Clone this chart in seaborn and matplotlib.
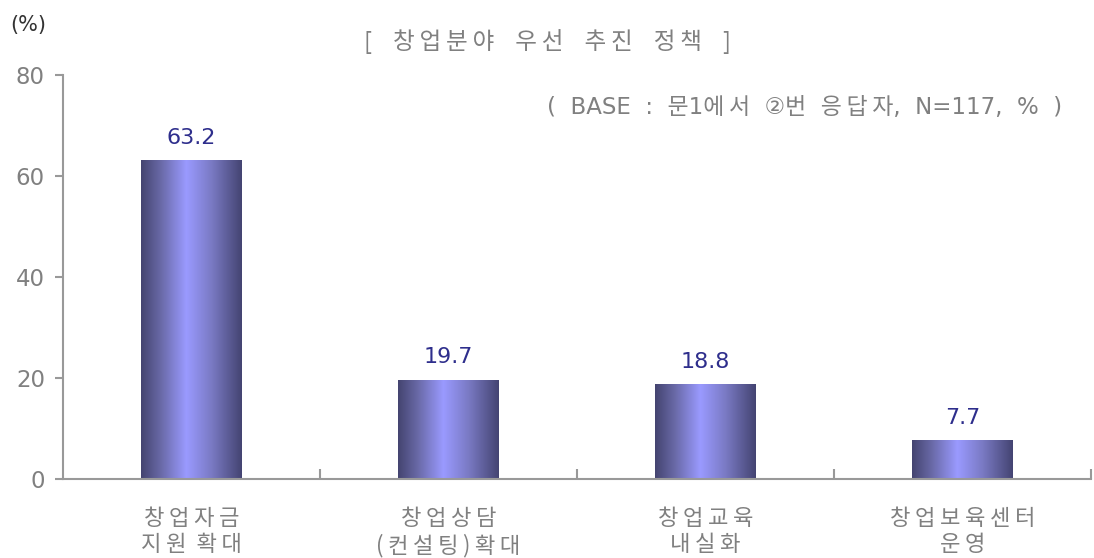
import numpy as np
import pandas as pd
import seaborn as sns
import matplotlib
matplotlib.use("Agg")
from matplotlib import pyplot as plt
from matplotlib.colors import LinearSegmentedColormap

categories = ["창업자금\n지원 확대", "창업상담\n(컨설팅)확대", "창업교육\n내실화", "창업보육센터\n운영"]
values = [63.2, 19.7, 18.8, 7.7]
y_ticks = [0, 20, 40, 60, 80]

title = "[ 창업분야 우선 추진 정책 ]"
base_note = "( BASE : 문1에서 ②번 응답자, N=117, % )"

TS = "\u2009"  # thin space, used to widen letter spacing like the original


def spaced(s, gap=TS, word_gap="  "):
    lines = []
    for line in s.split("\n"):
        words = [gap.join(w) for w in line.split(" ")]
        lines.append(word_gap.join(words))
    return "\n".join(lines)


def hangul_spaced(s):
    # thin space only between two neighbouring Hangul syllables
    out = s[0]
    for a, b in zip(s, s[1:]):
        if "\uac00" <= a <= "\ud7a3" and "\uac00" <= b <= "\ud7a3":
            out += TS
        out += b
    return out.replace(" ", "  ")


sns.set_style("white")
plt.rcParams['font.family'] = ['Noto Sans CJK KR', 'DejaVu Sans']

gray = "#808080"
navy = "#2e2e8c"

fig = plt.figure(figsize=(10.94, 5.58), dpi=100)
ax = fig.add_axes([0.0576, 0.1416, 0.9394, 0.724])

df = pd.DataFrame({"category": [spaced(c) for c in categories], "value": values})
sns.barplot(data=df, x="category", y="value", ax=ax, width=0.39,
            color="#9999ff", linewidth=0, saturation=1)

# horizontal gradient in each bar: dark edges, light centre
grad_cmap = LinearSegmentedColormap.from_list(
    "bar", [(0.0, "#444470"), (0.2, "#6a6aa8"), (0.45, "#9a9aff"),
            (0.7, "#7a7ac4"), (1.0, "#444472")])
grad = np.linspace(0, 1, 256).reshape(1, -1)
for i, patch in enumerate(ax.patches):
    x0, y0 = patch.get_x(), patch.get_y()
    w, h = patch.get_width(), patch.get_height()
    im = ax.imshow(grad, cmap=grad_cmap, aspect="auto",
                   extent=(x0, x0 + w, y0, y0 + h), zorder=patch.get_zorder() + 0.1)
    im.set_clip_path(patch)
    ax.text(x0 + w / 2, y0 + h + 2.4, f"{values[i]:.1f}",
            ha="center", va="bottom", color=navy, fontsize=16,
            family=['DejaVu Sans'])

ax.set_xlim(-0.5, 3.5)
ax.set_ylim(0, 80)
ax.set_yticks(y_ticks)
ax.set_xlabel("")
ax.set_ylabel("")

for s in ["top", "right"]:
    ax.spines[s].set_visible(False)
for s in ["left", "bottom"]:
    ax.spines[s].set_color("#999999")
    ax.spines[s].set_linewidth(1.5)

ax.tick_params(axis="y", direction="out", length=6, width=1.5, color="#999999",
               labelcolor=gray, labelsize=16.5, pad=7, left=True)
for lbl in ax.get_yticklabels():
    lbl.set_family(['DejaVu Sans'])
ax.set_xticks([0.5, 1.5, 2.5, 3.5], minor=True)
ax.tick_params(axis="x", which="minor", direction="in", length=7, width=1.5,
               color="#999999", bottom=True)
ax.tick_params(axis="x", which="major", length=0, labelcolor=gray,
               labelsize=16, pad=20)
for lbl in ax.get_xticklabels():
    lbl.set_linespacing(1.2)

fig.text(0.5, 0.925, spaced(title, word_gap="    "), ha="center", va="center",
         color=gray, fontsize=17)
fig.text(0.971, 0.808, hangul_spaced(base_note), ha="right", va="center", color=gray,
         fontsize=16.5, family=['DejaVu Sans', 'Noto Sans CJK KR'])
fig.text(0.009, 0.955, "(%)", ha="left", va="center", color="#333333",
         fontsize=15, family=['DejaVu Sans'])

plt.savefig("out.png", dpi=100)
plt.close()
